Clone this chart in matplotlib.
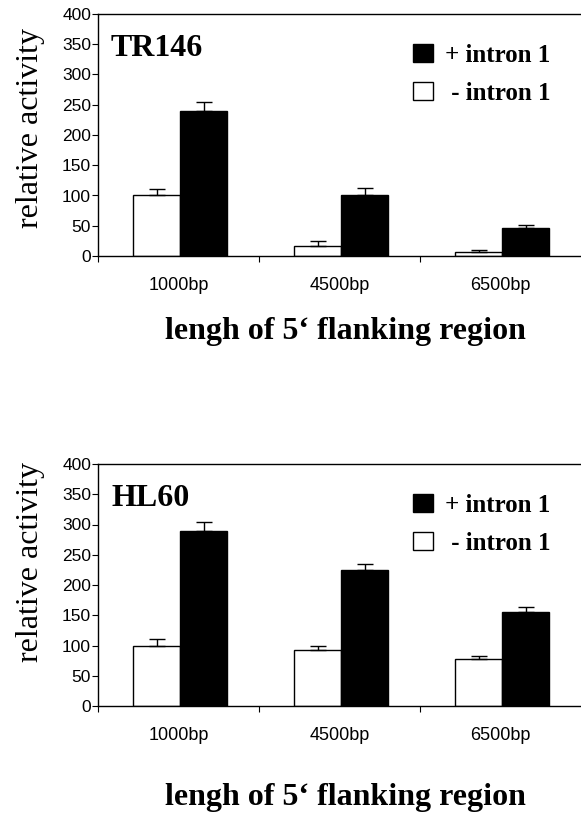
import matplotlib.pyplot as plt
from matplotlib.patches import Patch

# data
regions = ['1000bp', '4500bp', '6500bp']

tr146_plus = [239, 101, 47]
tr146_plus_err = [16, 11, 5]
tr146_minus = [100, 17, 6]
tr146_minus_err = [10, 8, 4]

hl60_plus = [289, 224, 156]
hl60_plus_err = [15, 11, 7]
hl60_minus = [99, 93, 77]
hl60_minus_err = [12, 7, 5]

serif = 'Liberation Serif'
sans = 'Liberation Sans'


def panel(ax, title, plus, plus_err, minus, minus_err, ylab_y, xlab_y):
    x = list(range(len(regions)))
    w = 0.292
    xm = [i - w / 2 + 0.01 for i in x]
    xp = [i + w / 2 + 0.01 for i in x]
    ax.bar(xm, minus, w, color='white', edgecolor='black', linewidth=1.0)
    ax.bar(xp, plus, w, color='black', edgecolor='black', linewidth=1.0)
    ax.errorbar(xm, minus, yerr=[[0] * 3, minus_err], fmt='none', ecolor='black',
                elinewidth=1.0, capsize=6, capthick=1.0)
    ax.errorbar(xp, plus, yerr=[[0] * 3, plus_err], fmt='none', ecolor='black',
                elinewidth=1.0, capsize=6, capthick=1.0)

    ax.set_xlim(-0.5, 2.5)
    ax.set_ylim(0, 400)
    ax.set_yticks(range(0, 401, 50))
    ax.set_xticks(x)
    ax.set_xticklabels(regions, fontfamily=sans, fontsize=13)
    ax.set_xticks([-0.5, 0.5, 1.5], minor=True)
    ax.tick_params(axis='x', which='major', length=0, pad=15)
    ax.tick_params(axis='x', which='minor', length=4, width=0.8, direction='out')
    ax.tick_params(axis='y', length=4, width=0.8, direction='out', pad=1, labelsize=12.5)
    for lab in ax.get_yticklabels():
        lab.set_fontfamily(sans)

    ax.spines['right'].set_visible(False)
    for s in ['left', 'bottom', 'top']:
        ax.spines[s].set_linewidth(1.0)

    ax.set_ylabel('relative activity', fontfamily=serif, fontsize=23, va='center')
    ax.yaxis.set_label_coords(-0.140, ylab_y)
    ax.set_xlabel('lengh of 5\u2018 flanking region', fontfamily=serif, fontsize=23,
                  fontweight='bold', va='center')
    ax.xaxis.set_label_coords(0.512, xlab_y)

    ax.text(0.027, 0.858, title, transform=ax.transAxes, fontfamily=serif,
            fontsize=23, fontweight='bold', va='center', ha='left')

    handles = [Patch(facecolor='black', edgecolor='black', linewidth=1.0),
               Patch(facecolor='white', edgecolor='black', linewidth=1.0)]
    ax.legend(handles, ['+ intron 1', ' - intron 1'], loc='center left',
              bbox_to_anchor=(0.652, 0.752), frameon=False, borderpad=0,
              borderaxespad=0, handlelength=0.8, handleheight=0.72,
              handletextpad=0.5, labelspacing=0.6,
              prop={'family': serif, 'weight': 'bold', 'size': 18})


fig = plt.figure(figsize=(5.81, 8.15), dpi=100)
ax1 = fig.add_axes([98 / 581, 1 - 256 / 815, 483 / 581, 242 / 815])
ax2 = fig.add_axes([98 / 581, 1 - 706 / 815, 483 / 581, 242 / 815])

panel(ax1, 'TR146', tr146_plus, tr146_plus_err, tr146_minus, tr146_minus_err, 0.527, -0.314)
panel(ax2, 'HL60', hl60_plus, hl60_plus_err, hl60_minus, hl60_minus_err, 0.595, -0.380)

fig.savefig('out.png', dpi=100)
